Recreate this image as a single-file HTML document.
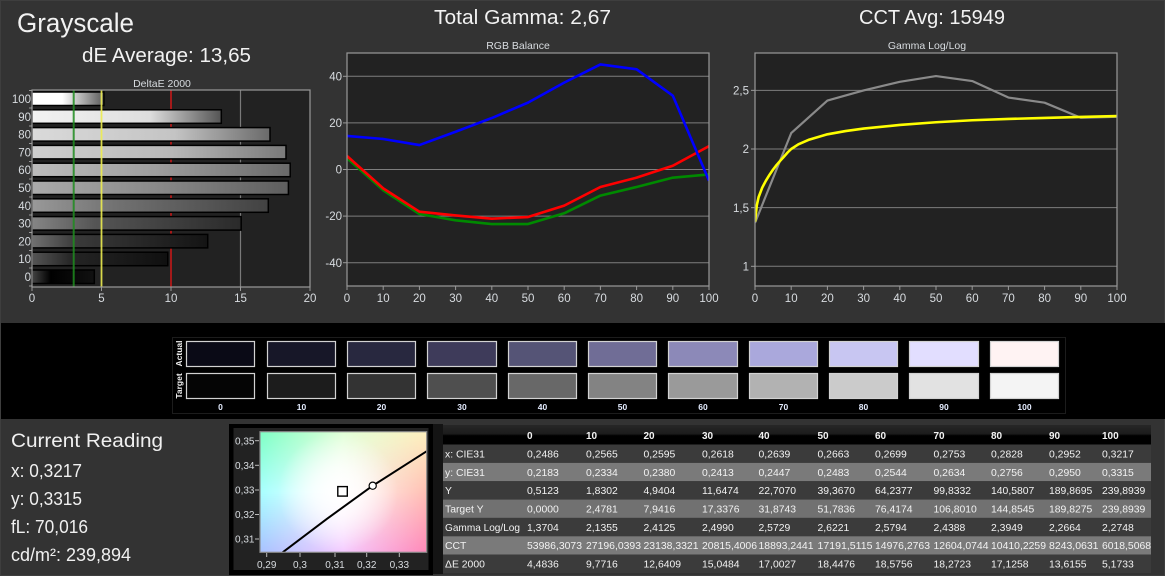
<!DOCTYPE html>
<html><head><meta charset="utf-8">
<style>
html,body{margin:0;padding:0;background:#333;}
body{width:1165px;height:576px;overflow:hidden;}
svg{display:block;font-family:"Liberation Sans",sans-serif;}
</style></head><body>
<svg width="1165" height="576" viewBox="0 0 1165 576" xmlns="http://www.w3.org/2000/svg">
<defs>
 <linearGradient id="b100"><stop offset="0" stop-color="#fff"/><stop offset="0.42" stop-color="#fff"/><stop offset="1" stop-color="#5a5a5a"/></linearGradient>
 <linearGradient id="b90"><stop offset="0" stop-color="#f2f2f2"/><stop offset="0.62" stop-color="#dedede"/><stop offset="1" stop-color="#555"/></linearGradient>
 <linearGradient id="b80"><stop offset="0" stop-color="#dadada"/><stop offset="0.6" stop-color="#c4c4c4"/><stop offset="1" stop-color="#6a6a6a"/></linearGradient>
 <linearGradient id="b70"><stop offset="0" stop-color="#cecece"/><stop offset="0.55" stop-color="#b8b8b8"/><stop offset="1" stop-color="#7a7a7a"/></linearGradient>
 <linearGradient id="b60"><stop offset="0" stop-color="#bdbdbd"/><stop offset="0.5" stop-color="#9c9c9c"/><stop offset="1" stop-color="#6a6a6a"/></linearGradient>
 <linearGradient id="b50"><stop offset="0" stop-color="#ababab"/><stop offset="0.5" stop-color="#888"/><stop offset="1" stop-color="#5e5e5e"/></linearGradient>
 <linearGradient id="b40"><stop offset="0" stop-color="#999"/><stop offset="0.35" stop-color="#727272"/><stop offset="1" stop-color="#424242"/></linearGradient>
 <linearGradient id="b30"><stop offset="0" stop-color="#858585"/><stop offset="0.3" stop-color="#555"/><stop offset="1" stop-color="#2a2a2a"/></linearGradient>
 <linearGradient id="b20"><stop offset="0" stop-color="#707070"/><stop offset="0.25" stop-color="#3a3a3a"/><stop offset="1" stop-color="#141414"/></linearGradient>
 <linearGradient id="b10"><stop offset="0" stop-color="#555"/><stop offset="0.3" stop-color="#242424"/><stop offset="1" stop-color="#101010"/></linearGradient>
 <linearGradient id="b0"><stop offset="0" stop-color="#444"/><stop offset="0.3" stop-color="#000"/><stop offset="1" stop-color="#111"/></linearGradient>
 <linearGradient id="hdr" x1="0" y1="0" x2="0" y2="1"><stop offset="0" stop-color="#272727"/><stop offset="0.45" stop-color="#1c1c1c"/><stop offset="0.55" stop-color="#000"/><stop offset="1" stop-color="#000"/></linearGradient>
 <linearGradient id="cieMid"><stop offset="0" stop-color="#a8ffff"/><stop offset="0.47" stop-color="#ffffff"/><stop offset="1" stop-color="#ffc0b4"/></linearGradient>
 <linearGradient id="cieTop"><stop offset="0" stop-color="#7effc4"/><stop offset="0.5" stop-color="#e0ffd6"/><stop offset="1" stop-color="#fff0be"/></linearGradient>
 <linearGradient id="cieBot"><stop offset="0" stop-color="#a8c2ff"/><stop offset="0.5" stop-color="#f4caff"/><stop offset="1" stop-color="#ff88b8"/></linearGradient>
 <linearGradient id="vTop" x1="0" y1="0" x2="0" y2="1"><stop offset="0" stop-color="#fff"/><stop offset="0.5" stop-color="#000"/><stop offset="1" stop-color="#000"/></linearGradient>
 <linearGradient id="vBot" x1="0" y1="0" x2="0" y2="1"><stop offset="0" stop-color="#000"/><stop offset="0.5" stop-color="#000"/><stop offset="1" stop-color="#fff"/></linearGradient>
 <mask id="mTop" maskUnits="userSpaceOnUse" x="0" y="0" width="1165" height="576"><rect x="260" y="431.7" width="166.7" height="120.6" fill="url(#vTop)"/></mask>
 <mask id="mBot" maskUnits="userSpaceOnUse" x="0" y="0" width="1165" height="576"><rect x="260" y="431.7" width="166.7" height="120.6" fill="url(#vBot)"/></mask>
 <radialGradient id="cieW" cx="338" cy="492" r="60" gradientUnits="userSpaceOnUse"><stop offset="0" stop-color="#fff" stop-opacity="1"/><stop offset="0.4" stop-color="#fff" stop-opacity="0.7"/><stop offset="1" stop-color="#fff" stop-opacity="0"/></radialGradient>
 <clipPath id="cRGB"><rect x="347" y="53" width="362" height="233"/></clipPath>
 <clipPath id="cGam"><rect x="755" y="53" width="362" height="233"/></clipPath>
 <clipPath id="cCie"><rect x="260" y="431.7" width="166.7" height="120.6"/></clipPath>
</defs>

<rect x="0" y="0" width="1165" height="576" fill="#333"/>
<rect x="0.5" y="0.5" width="1164" height="575" fill="none" stroke="#3e3e3e"/>

<!-- Titles -->
<text x="17" y="32" font-size="26.5" fill="#f2f2f2" textLength="117" lengthAdjust="spacingAndGlyphs">Grayscale</text>
<text x="82" y="62" font-size="20" fill="#f2f2f2" textLength="169" lengthAdjust="spacingAndGlyphs">dE Average: 13,65</text>
<text x="434" y="24" font-size="20" fill="#f2f2f2" textLength="177" lengthAdjust="spacingAndGlyphs">Total Gamma: 2,67</text>
<text x="859" y="24" font-size="20" fill="#f2f2f2" textLength="146" lengthAdjust="spacingAndGlyphs">CCT Avg: 15949</text>

<!-- DeltaE chart -->
<text x="162" y="87" font-size="10.5" fill="#d8dce0" text-anchor="middle">DeltaE 2000</text>
<rect x="32" y="90" width="278" height="197" fill="#222"/>
<line x1="240.5" y1="90" x2="240.5" y2="287" stroke="#7a7a7a" stroke-width="1.2"/>
<line x1="171" y1="90" x2="171" y2="287" stroke="#d01818" stroke-width="1.5"/>
<g stroke="#000" stroke-width="1.5">
 <rect x="32" y="92" width="71.9" height="13.5" fill="url(#b100)"/>
 <rect x="32" y="109.8" width="189.3" height="13.5" fill="url(#b90)"/>
 <rect x="32" y="127.6" width="238" height="13.5" fill="url(#b80)"/>
 <rect x="32" y="145.4" width="254" height="13.5" fill="url(#b70)"/>
 <rect x="32" y="163.2" width="258.2" height="13.5" fill="url(#b60)"/>
 <rect x="32" y="181" width="256.4" height="13.5" fill="url(#b50)"/>
 <rect x="32" y="198.8" width="236.3" height="13.5" fill="url(#b40)"/>
 <rect x="32" y="216.6" width="209.2" height="13.5" fill="url(#b30)"/>
 <rect x="32" y="234.4" width="175.7" height="13.5" fill="url(#b20)"/>
 <rect x="32" y="252.2" width="135.8" height="13.5" fill="url(#b10)"/>
 <rect x="32" y="270" width="62.3" height="13.5" fill="url(#b0)"/>
</g>
<line x1="73.7" y1="90" x2="73.7" y2="287" stroke="#1e8c1e" stroke-opacity="0.85" stroke-width="2"/>
<line x1="101.5" y1="90" x2="101.5" y2="287" stroke="#ecec50" stroke-opacity="0.9" stroke-width="1.8"/>
<rect x="32" y="90" width="278" height="197" fill="none" stroke="#9a9a9a" stroke-width="1.2"/>
<g stroke="#9a9a9a" stroke-width="1">
 <line x1="29" y1="90.5" x2="32" y2="90.5"/><line x1="29" y1="108" x2="32" y2="108"/><line x1="29" y1="126" x2="32" y2="126"/><line x1="29" y1="143.5" x2="32" y2="143.5"/><line x1="29" y1="161.5" x2="32" y2="161.5"/><line x1="29" y1="179" x2="32" y2="179"/><line x1="29" y1="197" x2="32" y2="197"/><line x1="29" y1="215" x2="32" y2="215"/><line x1="29" y1="232.5" x2="32" y2="232.5"/><line x1="29" y1="250.5" x2="32" y2="250.5"/><line x1="29" y1="268" x2="32" y2="268"/><line x1="29" y1="286" x2="32" y2="286"/>
 <line x1="32" y1="287" x2="32" y2="291"/><line x1="101.5" y1="287" x2="101.5" y2="291"/><line x1="171" y1="287" x2="171" y2="291"/><line x1="240.5" y1="287" x2="240.5" y2="291"/><line x1="310" y1="287" x2="310" y2="291"/>
</g>
<g font-size="11.5" fill="#d8dce0" text-anchor="end">
 <text x="31" y="103">100</text><text x="31" y="120.8">90</text><text x="31" y="138.6">80</text><text x="31" y="156.4">70</text><text x="31" y="174.2">60</text><text x="31" y="192">50</text><text x="31" y="209.8">40</text><text x="31" y="227.6">30</text><text x="31" y="245.4">20</text><text x="31" y="263.2">10</text><text x="31" y="281">0</text>
</g>
<g font-size="11.5" fill="#d8dce0" text-anchor="middle">
 <text x="32" y="302">0</text><text x="101.5" y="302">5</text><text x="171" y="302">10</text><text x="240.5" y="302">15</text><text x="310" y="302">20</text>
</g>

<!-- RGB Balance chart -->
<text x="518" y="49" font-size="10.5" fill="#d8dce0" text-anchor="middle">RGB Balance</text>
<rect x="347" y="53" width="362" height="233" fill="#222"/>
<g stroke="#7e7e7e" stroke-width="1">
 <line x1="347" y1="76.3" x2="709" y2="76.3"/><line x1="347" y1="122.9" x2="709" y2="122.9"/><line x1="347" y1="169.5" x2="709" y2="169.5"/><line x1="347" y1="216.1" x2="709" y2="216.1"/><line x1="347" y1="262.7" x2="709" y2="262.7"/>
</g>
<g clip-path="url(#cRGB)" fill="none" stroke-width="2.6" stroke-linejoin="round">
 <polyline stroke="#008a00" points="347,158.08 383.2,190.24 419.4,214 455.6,220.29 491.8,224.02 528,224.02 564.2,213.3 600.4,195.6 636.6,186.98 672.8,177.66 709,174.39"/>
 <polyline stroke="#ff0000" points="347,155.99 383.2,188.37 419.4,211.67 455.6,215.4 491.8,218.66 528,217.03 564.2,205.62 600.4,186.98 636.6,177.66 672.8,165.77 709,146.2"/>
 <polyline stroke="#0000ff" points="347,135.95 383.2,138.98 419.4,145.04 455.6,131.75 491.8,118.01 528,102.63 564.2,82.6 600.4,64.42 636.6,69.31 672.8,95.64 709,180.68"/>
</g>
<rect x="347" y="53" width="362" height="233" fill="none" stroke="#9a9a9a" stroke-width="1.2"/>
<g stroke="#9a9a9a" stroke-width="1">
 <line x1="343" y1="76.3" x2="347" y2="76.3"/><line x1="343" y1="122.9" x2="347" y2="122.9"/><line x1="343" y1="169.5" x2="347" y2="169.5"/><line x1="343" y1="216.1" x2="347" y2="216.1"/><line x1="343" y1="262.7" x2="347" y2="262.7"/>
 <line x1="347" y1="286" x2="347" y2="290"/><line x1="383.2" y1="286" x2="383.2" y2="290"/><line x1="419.4" y1="286" x2="419.4" y2="290"/><line x1="455.6" y1="286" x2="455.6" y2="290"/><line x1="491.8" y1="286" x2="491.8" y2="290"/><line x1="528" y1="286" x2="528" y2="290"/><line x1="564.2" y1="286" x2="564.2" y2="290"/><line x1="600.4" y1="286" x2="600.4" y2="290"/><line x1="636.6" y1="286" x2="636.6" y2="290"/><line x1="672.8" y1="286" x2="672.8" y2="290"/><line x1="709" y1="286" x2="709" y2="290"/>
</g>
<g font-size="11.5" fill="#d8dce0" text-anchor="end">
 <text x="342" y="80.5">40</text><text x="342" y="127">20</text><text x="342" y="173.6">0</text><text x="342" y="220.2">-20</text><text x="342" y="266.8">-40</text>
</g>
<g font-size="11.5" fill="#d8dce0" text-anchor="middle">
 <text x="347" y="302">0</text><text x="383.2" y="302">10</text><text x="419.4" y="302">20</text><text x="455.6" y="302">30</text><text x="491.8" y="302">40</text><text x="528" y="302">50</text><text x="564.2" y="302">60</text><text x="600.4" y="302">70</text><text x="636.6" y="302">80</text><text x="672.8" y="302">90</text><text x="709" y="302">100</text>
</g>

<!-- Gamma chart -->
<text x="927" y="49" font-size="10.5" fill="#d8dce0" text-anchor="middle">Gamma Log/Log</text>
<rect x="755" y="53" width="362" height="233" fill="#222"/>
<g stroke="#7e7e7e" stroke-width="1">
 <line x1="755" y1="90.35" x2="1117" y2="90.35"/><line x1="755" y1="149" x2="1117" y2="149"/><line x1="755" y1="207.65" x2="1117" y2="207.65"/><line x1="755" y1="266.3" x2="1117" y2="266.3"/>
</g>
<g clip-path="url(#cGam)" fill="none" stroke-linejoin="round">
 <polyline stroke="#8a8a8a" stroke-width="2.2" points="755,222.85 791.2,133.1 827.4,100.6 863.6,90.47 899.8,81.8 936,76.03 972.2,81.04 1008.4,97.53 1044.6,102.68 1080.8,117.75 1117,116.77"/>
 <polyline stroke="#ffff00" stroke-width="2.6" points="755,221.7 756.8,205.3 758.6,197.1 762.2,187.7 765.9,180.7 769.5,174.8 773.1,169.5 776.7,164.8 780.3,160.7 784,156.6 787.6,152.5 791.2,149 798.4,144.3 809.3,139.6 827.4,134.3 845.5,131.05 863.6,128.6 899.8,124.95 936,122.25 972.2,120.26 1008.4,118.97 1044.6,117.92 1080.8,116.98 1117,116.04"/>
</g>
<rect x="755" y="53" width="362" height="233" fill="none" stroke="#9a9a9a" stroke-width="1.2"/>
<g stroke="#9a9a9a" stroke-width="1">
 <line x1="751" y1="90.35" x2="755" y2="90.35"/><line x1="751" y1="149" x2="755" y2="149"/><line x1="751" y1="207.65" x2="755" y2="207.65"/><line x1="751" y1="266.3" x2="755" y2="266.3"/>
 <line x1="755" y1="286" x2="755" y2="290"/><line x1="791.2" y1="286" x2="791.2" y2="290"/><line x1="827.4" y1="286" x2="827.4" y2="290"/><line x1="863.6" y1="286" x2="863.6" y2="290"/><line x1="899.8" y1="286" x2="899.8" y2="290"/><line x1="936" y1="286" x2="936" y2="290"/><line x1="972.2" y1="286" x2="972.2" y2="290"/><line x1="1008.4" y1="286" x2="1008.4" y2="290"/><line x1="1044.6" y1="286" x2="1044.6" y2="290"/><line x1="1080.8" y1="286" x2="1080.8" y2="290"/><line x1="1117" y1="286" x2="1117" y2="290"/>
</g>
<g font-size="11.5" fill="#d8dce0" text-anchor="end">
 <text x="749" y="94.5">2,5</text><text x="749" y="153">2</text><text x="749" y="211.8">1,5</text><text x="749" y="270.4">1</text>
</g>
<g font-size="11.5" fill="#d8dce0" text-anchor="middle">
 <text x="755" y="302">0</text><text x="791.2" y="302">10</text><text x="827.4" y="302">20</text><text x="863.6" y="302">30</text><text x="899.8" y="302">40</text><text x="936" y="302">50</text><text x="972.2" y="302">60</text><text x="1008.4" y="302">70</text><text x="1044.6" y="302">80</text><text x="1080.8" y="302">90</text><text x="1117" y="302">100</text>
</g>

<!-- Swatch band -->
<rect x="1" y="323" width="1164" height="96" fill="#000"/>
<rect x="172.5" y="337.5" width="893" height="76" fill="none" stroke="#1c1c1c" stroke-width="1"/>
<g font-size="8.5" font-weight="bold" fill="#f0f0f0" text-anchor="middle">
 <text transform="translate(182,353.5) rotate(-90)">Actual</text>
 <text transform="translate(182,386) rotate(-90)">Target</text>
</g>
<g stroke="#d2d2d2" stroke-width="1.2">
 <rect x="186.5" y="341.5" width="68" height="25" fill="#0a0a16"/>
 <rect x="267.5" y="341.5" width="68" height="25" fill="#171728"/>
 <rect x="347.5" y="341.5" width="68" height="25" fill="#28283f"/>
 <rect x="427.5" y="341.5" width="69" height="25" fill="#3e3b5a"/>
 <rect x="508.5" y="341.5" width="68" height="25" fill="#555476"/>
 <rect x="588.5" y="341.5" width="68" height="25" fill="#706d96"/>
 <rect x="668.5" y="341.5" width="69" height="25" fill="#8c89b8"/>
 <rect x="749.5" y="341.5" width="68" height="25" fill="#aaa8dc"/>
 <rect x="829.5" y="341.5" width="68" height="25" fill="#c8c6f2"/>
 <rect x="909.5" y="341.5" width="69" height="25" fill="#e2deff"/>
 <rect x="990.5" y="341.5" width="68" height="25" fill="#fff3f3"/>
 <rect x="186.5" y="373.5" width="68" height="25" fill="#050505"/>
 <rect x="267.5" y="373.5" width="68" height="25" fill="#1c1c1c"/>
 <rect x="347.5" y="373.5" width="68" height="25" fill="#333"/>
 <rect x="427.5" y="373.5" width="69" height="25" fill="#4f4f4f"/>
 <rect x="508.5" y="373.5" width="68" height="25" fill="#686868"/>
 <rect x="588.5" y="373.5" width="68" height="25" fill="#838383"/>
 <rect x="668.5" y="373.5" width="69" height="25" fill="#9a9a9a"/>
 <rect x="749.5" y="373.5" width="68" height="25" fill="#b2b2b2"/>
 <rect x="829.5" y="373.5" width="68" height="25" fill="#cbcbcb"/>
 <rect x="909.5" y="373.5" width="69" height="25" fill="#e2e2e2"/>
 <rect x="990.5" y="373.5" width="68" height="25" fill="#f4f4f4"/>
</g>
<g font-size="8.5" font-weight="bold" fill="#e4ecff" text-anchor="middle">
 <text x="220.5" y="410">0</text><text x="301.5" y="410">10</text><text x="381.5" y="410">20</text><text x="462" y="410">30</text><text x="542.5" y="410">40</text><text x="622.5" y="410">50</text><text x="703" y="410">60</text><text x="783.5" y="410">70</text><text x="863.5" y="410">80</text><text x="944" y="410">90</text><text x="1024.5" y="410">100</text>
</g>

<!-- Current reading -->
<text x="11" y="447" font-size="19" fill="#f0f0f0" textLength="152" lengthAdjust="spacingAndGlyphs">Current Reading</text>
<text x="11" y="477" font-size="18" fill="#f0f0f0" textLength="71" lengthAdjust="spacingAndGlyphs">x: 0,3217</text>
<text x="11" y="505" font-size="18" fill="#f0f0f0" textLength="71" lengthAdjust="spacingAndGlyphs">y: 0,3315</text>
<text x="11" y="533" font-size="18" fill="#f0f0f0" textLength="77" lengthAdjust="spacingAndGlyphs">fL: 70,016</text>
<text x="11" y="561" font-size="18" fill="#f0f0f0" textLength="120" lengthAdjust="spacingAndGlyphs">cd/m²: 239,894</text>

<!-- CIE box -->
<rect x="229" y="424" width="204" height="151" fill="#000"/>
<rect x="233.5" y="428" width="195" height="142" fill="#222"/>
<rect x="260" y="431.7" width="166.7" height="120.6" fill="url(#cieMid)"/>
<rect x="260" y="431.7" width="166.7" height="120.6" fill="url(#cieTop)" mask="url(#mTop)"/>
<rect x="260" y="431.7" width="166.7" height="120.6" fill="url(#cieBot)" mask="url(#mBot)"/>
<rect x="260" y="431.7" width="166.7" height="120.6" fill="url(#cieW)"/>
<g clip-path="url(#cCie)">
 <polyline fill="none" stroke="#000" stroke-width="2" points="282.7,552.3 327,518.8 372.7,485.7 426,451.7 440,443"/>
</g>
<rect x="260" y="431.7" width="166.7" height="120.6" fill="none" stroke="#8a8a8a" stroke-width="1.2"/>
<rect x="337.8" y="486.6" width="9.5" height="9.5" fill="#fff" stroke="#000" stroke-width="1.4"/>
<circle cx="372.7" cy="485.7" r="3.6" fill="#fff" stroke="#000" stroke-width="1.2"/>
<g stroke="#bbb" stroke-width="1">
 <line x1="255" y1="440.7" x2="259" y2="440.7"/><line x1="255" y1="465.3" x2="259" y2="465.3"/><line x1="255" y1="490" x2="259" y2="490"/><line x1="255" y1="514.5" x2="259" y2="514.5"/><line x1="255" y1="539" x2="259" y2="539"/>
 <line x1="266.7" y1="553" x2="266.7" y2="557"/><line x1="300" y1="553" x2="300" y2="557"/><line x1="335" y1="553" x2="335" y2="557"/><line x1="366.7" y1="553" x2="366.7" y2="557"/><line x1="399.3" y1="553" x2="399.3" y2="557"/>
</g>
<g font-size="10" fill="#d8dce0" text-anchor="end">
 <text x="254.5" y="444.3">0,35</text><text x="254.5" y="468.9">0,34</text><text x="254.5" y="493.6">0,33</text><text x="254.5" y="518.1">0,32</text><text x="254.5" y="542.6">0,31</text>
</g>
<g font-size="10" fill="#d8dce0" text-anchor="middle">
 <text x="266.7" y="568">0,29</text><text x="300" y="568">0,3</text><text x="335" y="568">0,31</text><text x="366.7" y="568">0,32</text><text x="399.3" y="568">0,33</text>
</g>

<!-- Table -->
<rect x="433" y="424" width="10" height="150" fill="#141414"/>
<rect x="443" y="425" width="708" height="19.5" fill="url(#hdr)"/>
<rect x="443" y="444.5" width="708" height="18.4" fill="#3b3b3b"/>
<rect x="443" y="462.9" width="708" height="18.3" fill="#7a7a7a"/>
<rect x="443" y="481.2" width="708" height="18.4" fill="#3b3b3b"/>
<rect x="443" y="499.6" width="708" height="18.3" fill="#717171"/>
<rect x="443" y="517.9" width="708" height="18.4" fill="#3b3b3b"/>
<rect x="443" y="536.3" width="708" height="18.3" fill="#7a7a7a"/>
<rect x="443" y="554.6" width="708" height="18.4" fill="#3b3b3b"/>
<g font-size="10" font-weight="bold" fill="#f4f4f4">
 <text x="527" y="439">0</text><text x="586" y="439">10</text><text x="643.5" y="439">20</text><text x="702" y="439">30</text><text x="758.5" y="439">40</text><text x="817.5" y="439">50</text><text x="875" y="439">60</text><text x="933.5" y="439">70</text><text x="991" y="439">80</text><text x="1049" y="439">90</text><text x="1102" y="439">100</text>
</g>
<g font-size="10.4" fill="#f2f2f2">
 <text x="445" y="457.5">x: CIE31</text>
 <text x="445" y="475.8">y: CIE31</text>
 <text x="445" y="494.2">Y</text>
 <text x="445" y="512.5">Target Y</text>
 <text x="445" y="530.9" textLength="75" lengthAdjust="spacingAndGlyphs">Gamma Log/Log</text>
 <text x="445" y="549.2">CCT</text>
 <text x="445" y="567.6">ΔE 2000</text>

 <text x="527" y="457.5">0,2486</text><text x="586" y="457.5">0,2565</text><text x="643.5" y="457.5">0,2595</text><text x="702" y="457.5">0,2618</text><text x="758.5" y="457.5">0,2639</text><text x="817.5" y="457.5">0,2663</text><text x="875" y="457.5">0,2699</text><text x="933.5" y="457.5">0,2753</text><text x="991" y="457.5">0,2828</text><text x="1049" y="457.5">0,2952</text><text x="1102" y="457.5">0,3217</text>

 <text x="527" y="475.8">0,2183</text><text x="586" y="475.8">0,2334</text><text x="643.5" y="475.8">0,2380</text><text x="702" y="475.8">0,2413</text><text x="758.5" y="475.8">0,2447</text><text x="817.5" y="475.8">0,2483</text><text x="875" y="475.8">0,2544</text><text x="933.5" y="475.8">0,2634</text><text x="991" y="475.8">0,2756</text><text x="1049" y="475.8">0,2950</text><text x="1102" y="475.8">0,3315</text>

 <text x="527" y="494.2">0,5123</text><text x="586" y="494.2">1,8302</text><text x="643.5" y="494.2">4,9404</text><text x="702" y="494.2">11,6474</text><text x="758.5" y="494.2">22,7070</text><text x="817.5" y="494.2">39,3670</text><text x="875" y="494.2">64,2377</text><text x="933.5" y="494.2">99,8332</text><text x="991" y="494.2">140,5807</text><text x="1049" y="494.2">189,8695</text><text x="1102" y="494.2">239,8939</text>

 <text x="527" y="512.5">0,0000</text><text x="586" y="512.5">2,4781</text><text x="643.5" y="512.5">7,9416</text><text x="702" y="512.5">17,3376</text><text x="758.5" y="512.5">31,8743</text><text x="817.5" y="512.5">51,7836</text><text x="875" y="512.5">76,4174</text><text x="933.5" y="512.5">106,8010</text><text x="991" y="512.5">144,8545</text><text x="1049" y="512.5">189,8275</text><text x="1102" y="512.5">239,8939</text>

 <text x="527" y="530.9">1,3704</text><text x="586" y="530.9">2,1355</text><text x="643.5" y="530.9">2,4125</text><text x="702" y="530.9">2,4990</text><text x="758.5" y="530.9">2,5729</text><text x="817.5" y="530.9">2,6221</text><text x="875" y="530.9">2,5794</text><text x="933.5" y="530.9">2,4388</text><text x="991" y="530.9">2,3949</text><text x="1049" y="530.9">2,2664</text><text x="1102" y="530.9">2,2748</text>

 <text x="527" y="549.2" textLength="55" lengthAdjust="spacingAndGlyphs">53986,3073</text><text x="586" y="549.2" textLength="55" lengthAdjust="spacingAndGlyphs">27196,0393</text><text x="643.5" y="549.2" textLength="55" lengthAdjust="spacingAndGlyphs">23138,3321</text><text x="702" y="549.2" textLength="55" lengthAdjust="spacingAndGlyphs">20815,4006</text><text x="758.5" y="549.2" textLength="55" lengthAdjust="spacingAndGlyphs">18893,2441</text><text x="817.5" y="549.2" textLength="55" lengthAdjust="spacingAndGlyphs">17191,5115</text><text x="875" y="549.2" textLength="55" lengthAdjust="spacingAndGlyphs">14976,2763</text><text x="933.5" y="549.2" textLength="55" lengthAdjust="spacingAndGlyphs">12604,0744</text><text x="991" y="549.2" textLength="55" lengthAdjust="spacingAndGlyphs">10410,2259</text><text x="1049" y="549.2" textLength="49.5" lengthAdjust="spacingAndGlyphs">8243,0631</text><text x="1102" y="549.2" textLength="49" lengthAdjust="spacingAndGlyphs">6018,5068</text>

 <text x="527" y="567.6">4,4836</text><text x="586" y="567.6">9,7716</text><text x="643.5" y="567.6">12,6409</text><text x="702" y="567.6">15,0484</text><text x="758.5" y="567.6">17,0027</text><text x="817.5" y="567.6">18,4476</text><text x="875" y="567.6">18,5756</text><text x="933.5" y="567.6">18,2723</text><text x="991" y="567.6">17,1258</text><text x="1049" y="567.6">13,6155</text><text x="1102" y="567.6">5,1733</text>
</g>
</svg>
</body></html>
